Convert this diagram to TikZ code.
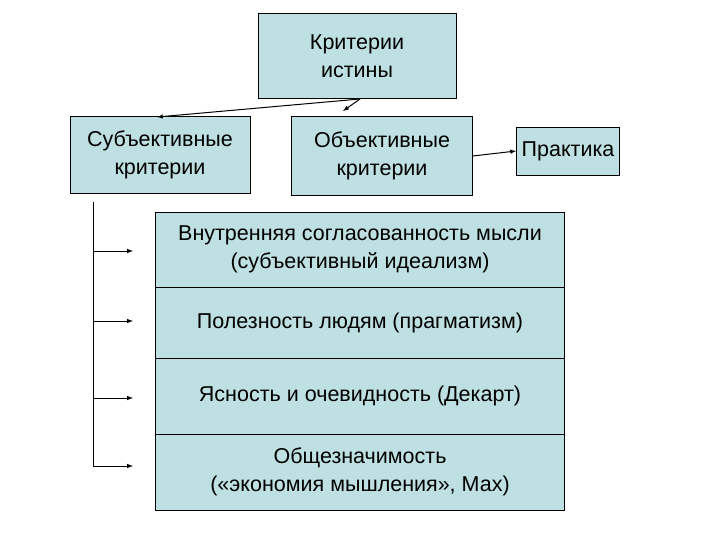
\documentclass[tikz,border=0pt]{standalone}
\usepackage{fontspec}
\setmainfont{Liberation Sans}
\begin{document}
\begin{tikzpicture}[x=1pt,y=-1pt,
 bx/.style={draw=black,fill={rgb,255:red,191;green,224;blue,226},line width=0.8pt,align=center,font=\fontsize{21.5}{27.5}\selectfont,inner sep=0pt},
 ar/.style={-latex,line width=1pt}]
\useasboundingbox (0,0) rectangle (720,540);
\node[bx,minimum width=198,minimum height=85] (top) at (357,56) {Критерии\\истины};
\node[bx,minimum width=180,minimum height=77] (sub) at (160,155) {Субъективные\\критерии};
\node[bx,minimum width=181,minimum height=79] (obj) at (382,156) {Объективные\\критерии};
\node[bx,minimum width=103,minimum height=48] (pr) at (568,151) {Практика};
\node[bx,minimum width=409,minimum height=75] (r1) at (360,249.5) {Внутренняя согласованность мысли\\(субъективный идеализм)};
\node[bx,minimum width=409,minimum height=71] (r2) at (360,322.5) {Полезность людям (прагматизм)};
\node[bx,minimum width=409,minimum height=76] (r3) at (360,396) {Ясность и очевидность (Декарт)};
\node[bx,minimum width=409,minimum height=76] (r4) at (360,472) {Общезначимость\\(«экономия мышления», Мах)};
\coordinate (s) at (360,99);
\draw[ar] (s) -- (157,117);
\draw[ar] (s) -- (343,111);
\draw[ar] (obj.east) -- (pr.west);
\coordinate (v0) at (93,202);
\coordinate (v1) at (93,251);
\coordinate (v2) at (93,321);
\coordinate (v3) at (93,398);
\coordinate (v4) at (93,466);
\draw[line width=0.8pt] (v0) -- (v4);
\draw[ar] (v1) -- (133,251);
\draw[ar] (v2) -- (133,321);
\draw[ar] (v3) -- (133,398);
\draw[ar] (v4) -- (133,466);
\end{tikzpicture}
\end{document}
